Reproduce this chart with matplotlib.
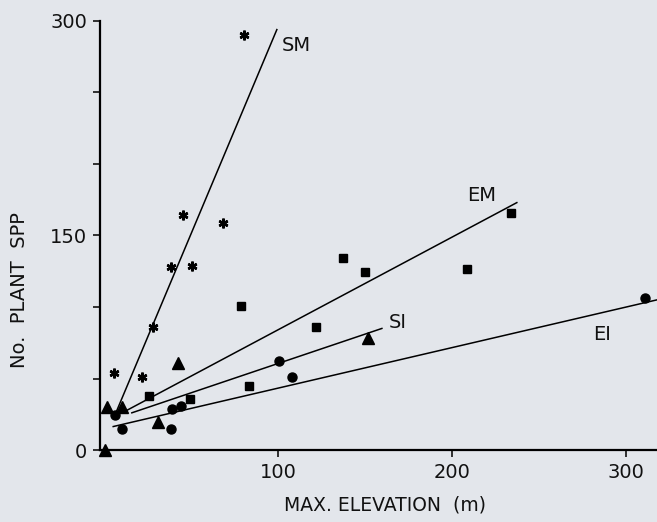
import numpy as np
import matplotlib.pyplot as plt

# points: (max elevation m, no. plant spp)
sm_x = [5.5, 21.8, 28, 38.5, 45.4, 50.6, 68.4, 80.5]
sm_y = [54, 51, 86, 128, 164, 129, 159, 290]

em_x = [26, 49.4, 79, 83.5, 122, 137.4, 150, 209, 234]
em_y = [38, 36, 101, 45, 86, 134, 124.5, 126.6, 165.7]

si_x = [0.6, 1.7, 10.3, 31, 42.5, 151.7]
si_y = [0, 30, 30, 19.6, 61, 78]

ei_x = [6.3, 10.5, 38.5, 39, 44.3, 100.6, 108, 311]
ei_y = [24.5, 14.5, 14.5, 28.7, 30.8, 62, 51, 106]

# fitted lines, start and end points as drawn
sm_line_x, sm_line_y = [6.3, 99.4], [24.5, 294]
em_line_x, em_line_y = [12, 237.4], [27, 173]
si_line_x, si_line_y = [16, 159.8], [26, 85]
ei_line_x, ei_line_y = [5.3, 318], [16.4, 105]

line_names = ['SM', 'EM', 'SI', 'EI']
name_pos = [(102.3, 283), (209, 178), (164, 89), (281, 81)]

bg = '#e3e6eb'
fig = plt.figure(figsize=(6.57, 5.22), dpi=100, facecolor=bg)
ax = fig.add_axes([100/657, 72/522, 557/657, 429/522], facecolor=bg)

for lx, ly in [(sm_line_x, sm_line_y), (em_line_x, em_line_y),
               (si_line_x, si_line_y), (ei_line_x, ei_line_y)]:
    ax.plot(lx, ly, color='black', lw=1.1, clip_on=False)

ax.plot(sm_x, sm_y, ls='none', marker=(6, 2, 0), ms=7, mew=1.8, color='black', clip_on=False)
ax.plot(em_x, em_y, ls='none', marker='s', ms=6, color='black', clip_on=False)
ax.plot(si_x, si_y, ls='none', marker='^', ms=8, color='black', clip_on=False)
ax.plot(ei_x, ei_y, ls='none', marker='o', ms=6.5, color='black', clip_on=False)

for name, (tx, ty) in zip(line_names, name_pos):
    ax.text(tx, ty, name, fontsize=14, va='center', ha='left', color='#111111')

ax.set_xlim(-2.3, 318)
ax.set_ylim(0, 300)
ax.set_xticks([100, 200, 300])
ax.set_xticklabels(['100', '200', '300'])
ax.set_yticks(np.arange(0, 301, 50))
ax.set_yticklabels(['0', '', '', '150', '', '', '300'])
ax.tick_params(direction='out', length=5, width=1.2, labelsize=14, colors='#111111', pad=4)

for s in ['top', 'right']:
    ax.spines[s].set_visible(False)
for s in ['left', 'bottom']:
    ax.spines[s].set_linewidth(1.6)

fig.text(385/657, 1 - 505/522, 'MAX. ELEVATION  (m)', fontsize=13.5, ha='center', va='center', color='#111111')
fig.text(20/657, 1 - 290/522, 'No.  PLANT  SPP', fontsize=14, rotation=90, ha='center', va='center', color='#111111')

fig.savefig('out.png', dpi=100, facecolor=bg)
